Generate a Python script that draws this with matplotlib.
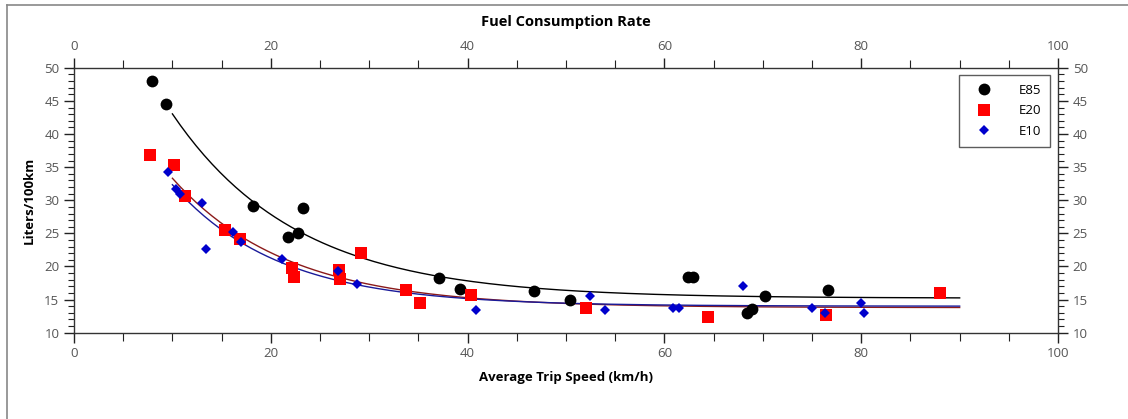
import numpy as np
import matplotlib.pyplot as plt
from matplotlib.lines import Line2D
from matplotlib.ticker import MultipleLocator

# Data
e85_speed = [7.9, 9.4, 18.2, 21.7, 22.8, 23.3, 37.1, 39.2, 46.7, 50.4,
             62.4, 62.9, 68.4, 68.9, 70.2, 76.6]
e85_rate = [48.0, 44.5, 29.2, 24.4, 25.0, 28.8, 18.3, 16.6, 16.3, 15.0,
            18.4, 18.4, 13.0, 13.6, 15.5, 16.5]

e20_speed = [7.7, 10.2, 11.3, 15.3, 16.9, 22.2, 22.4, 26.9, 27.0, 29.2,
             33.7, 35.2, 40.3, 52.0, 64.4, 76.4, 88.0]
e20_rate = [36.9, 35.3, 30.6, 25.5, 24.2, 19.7, 18.4, 19.4, 18.1, 22.1,
            16.5, 14.5, 15.7, 13.8, 12.3, 12.7, 16.0]

e10_speed = [9.6, 10.4, 10.8, 13.0, 13.4, 16.2, 17.0, 21.1, 26.8, 28.8,
             40.9, 52.4, 54.0, 60.9, 61.5, 68.0, 75.0, 76.3, 80.0, 80.3]
e10_rate = [34.3, 31.7, 30.9, 29.6, 22.7, 25.2, 23.7, 21.1, 19.3, 17.3,
            13.5, 15.5, 13.5, 13.8, 13.7, 17.0, 13.7, 13.0, 14.5, 13.0]


def fit_decay(x, y):
    # y = a + b*exp(-k*x), grid search on k, least squares for a, b
    x = np.asarray(x)
    y = np.asarray(y)
    best = None
    for k in np.linspace(0.01, 0.4, 800):
        M = np.column_stack([np.ones_like(x), np.exp(-k * x)])
        coef, res, _, _ = np.linalg.lstsq(M, y, rcond=None)
        err = np.sum((M @ coef - y) ** 2)
        if best is None or err < best[0]:
            best = (err, coef[0], coef[1], k)
    return best[1:]


plt.rcParams['font.family'] = ['Open Sans', 'DejaVu Sans']

fig = plt.figure(figsize=(11.28, 4.19), dpi=100)
ax = fig.add_axes([0.0656, 0.206, 0.8724, 0.632])

xs = np.linspace(10, 90, 200)
series = [
    (e85_speed, e85_rate, 'E85', 'o', 'black', 'black', 8.5),
    (e20_speed, e20_rate, 'E20', 's', 'red', '#8b1a1a', 8.5),
    (e10_speed, e10_rate, 'E10', 'D', '#0000cc', '#1a1a99', 5.5),
]
for sx, sy, name, mk, col, lcol, ms in series:
    a, b, k = fit_decay(sx, sy)
    ax.plot(xs, a + b * np.exp(-k * xs), color=lcol, lw=1.0, zorder=2)
for sx, sy, name, mk, col, lcol, ms in series:
    ax.plot(sx, sy, linestyle='none', marker=mk, color=col, markersize=ms,
            markeredgewidth=0, label=name, zorder=3)

ax.set_xlim(0, 100)
ax.set_ylim(10, 50)
ax.xaxis.set_major_locator(MultipleLocator(20))
ax.xaxis.set_minor_locator(MultipleLocator(5))
ax.yaxis.set_major_locator(MultipleLocator(5))
ax.yaxis.set_minor_locator(MultipleLocator(1))
ax.tick_params(which='both', direction='out', top=True, right=True,
               labeltop=True, labelright=True, colors='#222222',
               labelcolor='#555555', labelsize=9.5)
ax.tick_params(which='major', length=7, width=1)
ax.tick_params(axis='y', which='minor', length=4, width=0.8)
ax.tick_params(axis='x', which='minor', length=6, width=0.8)
for s in ax.spines.values():
    s.set_color('#333333')
    s.set_linewidth(1.0)

ax.set_xlabel('Average Trip Speed (km/h)', fontweight='bold', fontsize=9.5,
              labelpad=8)
ax.set_ylabel('Liters/100km', fontweight='bold', fontsize=9.5, labelpad=6)
ax.set_title('Fuel Consumption Rate', fontweight='bold', fontsize=10.5, pad=10)

leg = ax.legend(loc='upper right', bbox_to_anchor=(0.992, 0.974),
                borderaxespad=0, fancybox=False, edgecolor='#333333',
                fontsize=9.5, handletextpad=1.4, handlelength=2.4,
                borderpad=0.7, labelspacing=0.55)
leg.get_frame().set_linewidth(1.0)

# outer frame (top and left edges only visible)
fig.add_artist(Line2D([0.006, 0.006], [0.0, 0.988], color='#888888', lw=1.2,
                      transform=fig.transFigure))
fig.add_artist(Line2D([0.006, 1.0], [0.988, 0.988], color='#888888', lw=1.2,
                      transform=fig.transFigure))

plt.savefig('out.png', dpi=100)
